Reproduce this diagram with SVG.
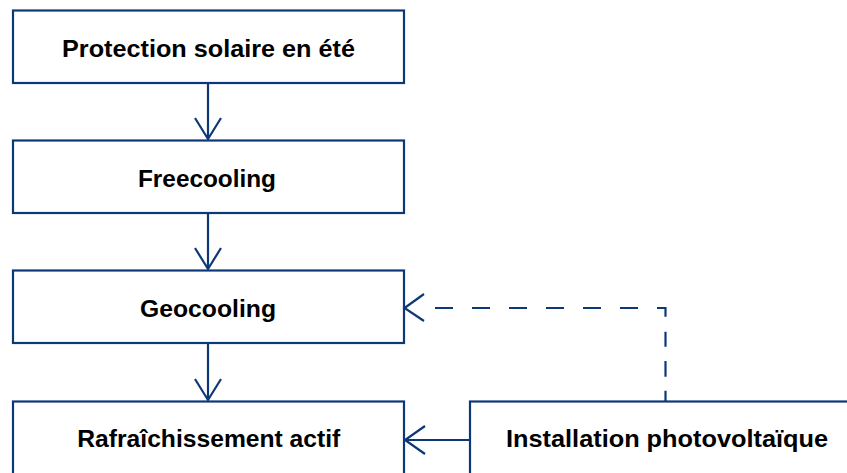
<svg xmlns="http://www.w3.org/2000/svg" width="847" height="473" viewBox="0 0 847 473">
<style>
.box{fill:#fff;stroke:#0d3878;stroke-width:2.2}
.lbl{font-family:"Liberation Sans",Arial,Helvetica,sans-serif;font-weight:bold;font-size:24.5px;fill:#000;text-anchor:middle}
.con{fill:none;stroke:#0d3878;stroke-width:2.2}
.dash{stroke-dasharray:18 19 18 19 18 19 18 19 18 19 18 19 17.2 15 15 14.3 15.7 14 20}
</style>
<rect width="847" height="473" fill="#fff"/>
<g id="n1"><rect class="box" x="13" y="10.5" width="391" height="72.5"/><text class="lbl" x="208.5" y="56.5" textLength="293" lengthAdjust="spacingAndGlyphs">Protection solaire en été</text></g>
<g id="n2"><rect class="box" x="13" y="140.5" width="391" height="72.5"/><text class="lbl" x="207" y="186.5" textLength="138" lengthAdjust="spacingAndGlyphs">Freecooling</text></g>
<g id="n3"><rect class="box" x="13" y="270.5" width="391" height="72.5"/><text class="lbl" x="208" y="316.5" textLength="136" lengthAdjust="spacingAndGlyphs">Geocooling</text></g>
<g id="n4"><rect class="box" x="13" y="401.5" width="391" height="80"/><text class="lbl" x="208.8" y="447" textLength="263" lengthAdjust="spacingAndGlyphs">Rafraîchissement actif</text></g>
<g id="n5"><rect class="box" x="470" y="401.5" width="392" height="80"/><text class="lbl" x="667" y="447" textLength="322" lengthAdjust="spacingAndGlyphs">Installation photovoltaïque</text></g>
<g id="connectors">
<path class="con" d="M208 83V139M195 118L208 139L221 118"/>
<path class="con" d="M208 213V269M195 248L208 269L221 248"/>
<path class="con" d="M208 343V400M195 379L208 400L221 379"/>
<path class="con" d="M470 440H405M425 426L405 440L425 454"/>
<path class="con dash" d="M435 308H665.5V401"/>
<path class="con" d="M424 294L404.5 308L424 321"/>
</g>
</svg>
